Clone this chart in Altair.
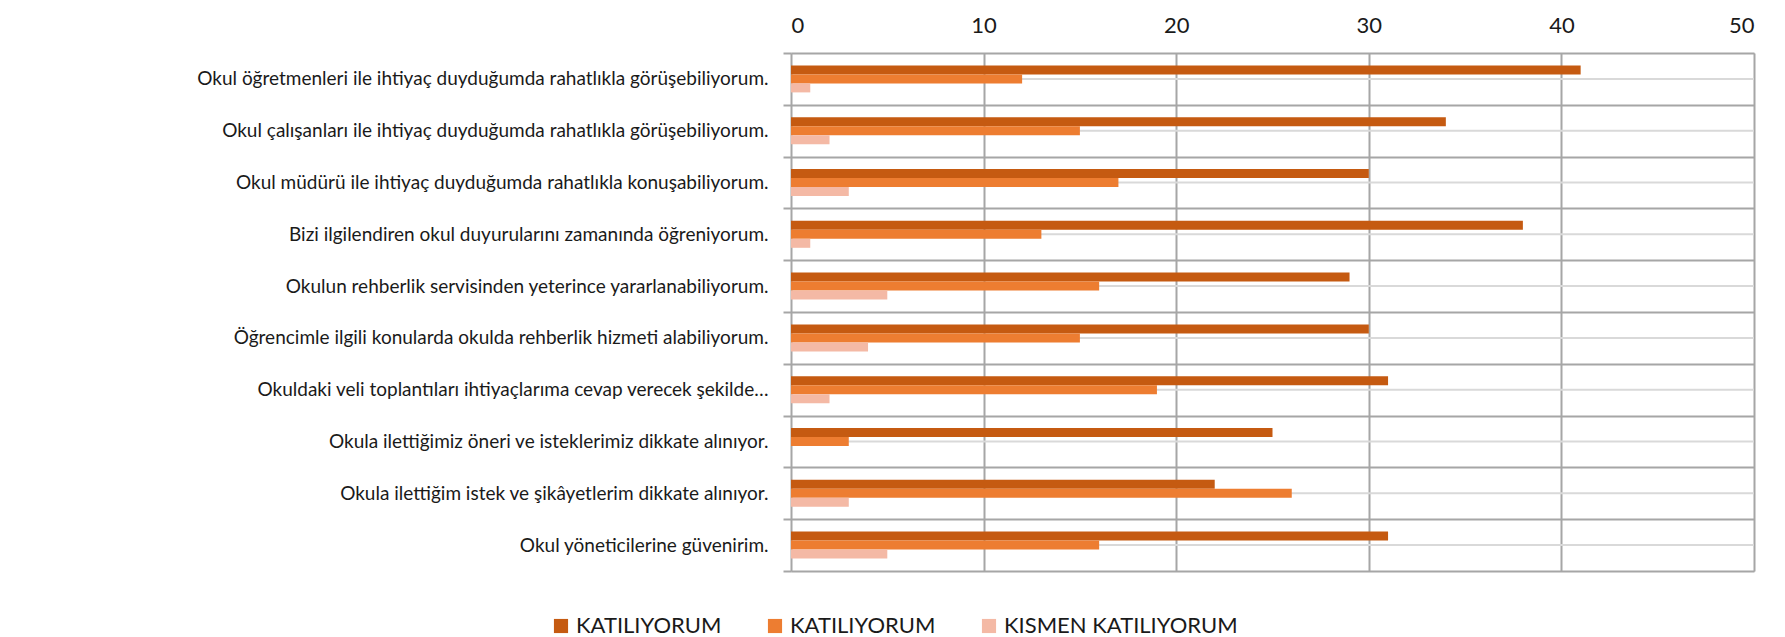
import altair as alt
import pandas as pd

categories = [
    "Okul öğretmenleri ile ihtiyaç duyduğumda rahatlıkla görüşebiliyorum.",
    "Okul çalışanları ile ihtiyaç duyduğumda  rahatlıkla görüşebiliyorum.",
    "Okul müdürü ile ihtiyaç duyduğumda rahatlıkla konuşabiliyorum.",
    "Bizi ilgilendiren okul duyurularını zamanında öğreniyorum.",
    "Okulun rehberlik servisinden yeterince yararlanabiliyorum.",
    "Öğrencimle ilgili konularda okulda rehberlik hizmeti alabiliyorum.",
    "Okuldaki veli toplantıları ihtiyaçlarıma cevap verecek şekilde…",
    "Okula ilettiğimiz öneri ve isteklerimiz dikkate alınıyor.",
    "Okula ilettiğim istek ve şikâyetlerim dikkate alınıyor.",
    "Okul yöneticilerine güvenirim.",
]
series_keys = ["s1", "s2", "s3"]
series_names = ["KATILIYORUM", "KATILIYORUM", "KISMEN KATILIYORUM"]
series_colors = ["#C55A11", "#ED7D31", "#F4B9A5"]
s1_values = [41, 34, 30, 38, 29, 30, 31, 25, 22, 31]
s2_values = [12, 15, 17, 13, 16, 15, 19, 3, 26, 16]
s3_values = [1, 2, 3, 1, 5, 4, 2, 0, 3, 5]
x_ticks = [0, 10, 20, 30, 40, 50]

rows = []
for key, vals in zip(series_keys, [s1_values, s2_values, s3_values]):
    for c, v in zip(categories, vals):
        rows.append({"cat": c, "key": key, "value": v})
df = pd.DataFrame(rows)
cat_df = pd.DataFrame({"cat": categories})

FONT = "Lato"
label_expr = " : ".join(
    [f"datum.value == '{k}' ? '{n}'" for k, n in zip(series_keys[:-1], series_names[:-1])]
    + [f"'{series_names[-1]}'"]
)

y_scale = alt.Scale(domain=categories, paddingInner=0, paddingOuter=0)

centers = alt.Chart(cat_df).mark_rule(color="#D9D9D9", strokeWidth=2).encode(
    y=alt.Y("cat:N", sort=categories, scale=y_scale, bandPosition=0.5)
)

bars = alt.Chart(df).mark_bar().encode(
    x=alt.X(
        "value:Q",
        scale=alt.Scale(domain=[0, 50], nice=False),
        axis=alt.Axis(
            orient="top", values=x_ticks, title=None, grid=True,
            gridColor="#A6A6A6", gridWidth=2, domain=False, ticks=False,
            labelFontSize=22, labelPadding=16, labelFont=FONT, labelColor="#1a1a1a",
        ),
    ),
    y=alt.Y(
        "cat:N", sort=categories, scale=y_scale,
        axis=alt.Axis(
            title=None, grid=True, tickBand="extent", domain=False,
            ticks=True, tickSize=8, tickColor="#A6A6A6", tickWidth=2,
            gridColor="#A6A6A6", gridWidth=2,
            labelFontSize=19, labelFont=FONT, labelColor="#1a1a1a",
            labelPadding=15, labelLimit=0,
        ),
    ),
    yOffset=alt.YOffset("key:N", sort=series_keys,
                        scale=alt.Scale(range=[12.4, 39.4], paddingInner=0, paddingOuter=0)),
    color=alt.Color(
        "key:N",
        scale=alt.Scale(domain=series_keys, range=series_colors),
        legend=alt.Legend(
            orient="none", legendX=-241, legendY=562, direction="horizontal",
            title=None, symbolType="square", symbolSize=200, symbolStrokeWidth=0,
            labelFontSize=22, labelFont=FONT, labelColor="#1a1a1a",
            columnPadding=42, labelExpr=label_expr, labelLimit=0,
        ),
    ),
)

chart = alt.layer(centers, bars).properties(
    width=963, height=518,
    autosize=alt.AutoSizeParams(type="none"),
    padding={"left": 783, "top": 45, "right": 23, "bottom": 80},
).configure_view(stroke=None).configure(background="white")

chart.save("out.html", embed_options={"renderer": "svg", "actions": False})
